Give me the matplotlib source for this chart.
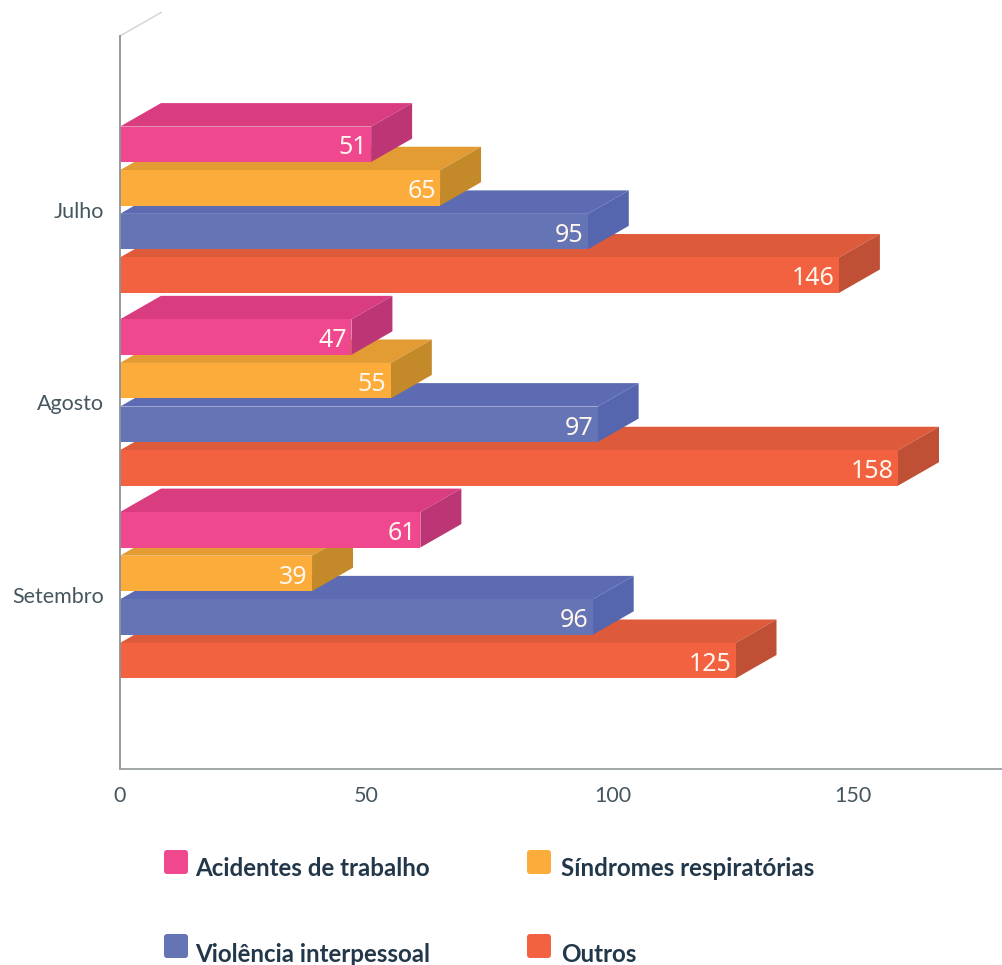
import matplotlib
matplotlib.use("Agg")
import matplotlib.pyplot as plt
from matplotlib.patches import Polygon, FancyBboxPatch
from matplotlib.transforms import ScaledTranslation

months = ["Julho", "Agosto", "Setembro"]
series_names = ["Acidentes de trabalho", "Síndromes respiratórias",
                "Violência interpessoal", "Outros"]
acidentes = [51, 47, 61]
sindromes = [65, 55, 39]
violencia = [95, 97, 96]
outros = [146, 158, 125]
x_ticks = [0, 50, 100, 150]

series_values = [acidentes, sindromes, violencia, outros]
front_colors = ["#F0488E", "#FBAC3A", "#6474B4", "#F26241"]
top_colors = ["#DA3C80", "#E29C33", "#5C6BB2", "#DD5A3A"]
side_colors = ["#BC3676", "#C48A2A", "#5565AE", "#BF5035"]

W, H = 1002, 965
fig = plt.figure(figsize=(W / 100, H / 100), dpi=100, facecolor="white")
ax = fig.add_axes([120 / W, 1 - 769 / H, 882 / W, 733 / H])
ax.set_xlim(0, 882 / 4.924)
ax.set_ylim(2 + 174 / 193, -174 / 193)

# depth of the 3D look, in data units
dx = 41 / 4.924
dy = 23.5 / 193
bar_h = 35.5 / 193
step = 43.7 / 193
offsets = [(i - 1.5) * step for i in range(4)]

# painted from the bottom up: upper bars hide the top faces of lower ones
for c in reversed(range(len(months))):
    for s in reversed(range(len(series_names))):
        v = series_values[s][c]
        yc = c + offsets[s]
        y0, y1 = yc - bar_h / 2, yc + bar_h / 2
        ax.add_patch(Polygon([(0, y0), (v, y0), (v + dx, y0 - dy), (dx, y0 - dy)],
                             closed=True, fc=top_colors[s], ec="none", clip_on=False))
        ax.add_patch(Polygon([(v, y0), (v + dx, y0 - dy), (v + dx, y1 - dy), (v, y1)],
                             closed=True, fc=side_colors[s], ec="none", clip_on=False))
        ax.barh(yc, v, height=bar_h, color=front_colors[s], edgecolor="none", clip_on=False)
        ax.annotate(str(v), (v, yc), xytext=(-3, -0.5), textcoords="offset points",
                    ha="right", va="center_baseline", color="#FFF6EE", fontsize=18,
                    family="Noto Sans")

# 3D back edge at the top of the vertical axis
ax.plot([0, dx], [ax.get_ylim()[1], ax.get_ylim()[1] - dy], color="#D4D6D8", lw=1.1,
        clip_on=False)

for sp in ("top", "right"):
    ax.spines[sp].set_visible(False)
ax.spines["left"].set_color("#8C9296")
ax.spines["left"].set_linewidth(1.3)
ax.spines["bottom"].set_color("#9AA0A3")
ax.spines["bottom"].set_linewidth(1.3)
ax.set_xticks(x_ticks)
ax.set_yticks(range(len(months)))
ax.set_yticklabels(months)
ax.tick_params(axis="x", length=0, pad=12.5, labelsize=15.5, labelcolor="#46565F")
ax.tick_params(axis="y", length=0, pad=11.5, labelsize=15.5, labelcolor="#46565F")
for t in ax.get_xticklabels() + ax.get_yticklabels():
    t.set_family("Lato")
# the reference draws its last x label slightly left of its tick
last = ax.get_xticklabels()[-1]
last.set_transform(last.get_transform() + ScaledTranslation(-0.06, 0, fig.dpi_scale_trans))

# legend
swatch_x = [164, 527]
text_x = [195, 561]
swatch_y = [850, 934]
text_y = [869, 954]
for i, name in enumerate(series_names):
    col, row = i % 2, i // 2
    fig.add_artist(FancyBboxPatch(
        (swatch_x[col] + 2, H - swatch_y[row] - 22), 20, 20,
        boxstyle="round,pad=2,rounding_size=3", transform=None,
        fc=front_colors[i], ec="none"))
    fig.text(text_x[col] / W, 1 - text_y[row] / H, name, ha="left", va="center",
             fontsize=17.4, fontweight="bold", color="#22384A", family="Lato")

fig.savefig("out.png", dpi=100)
